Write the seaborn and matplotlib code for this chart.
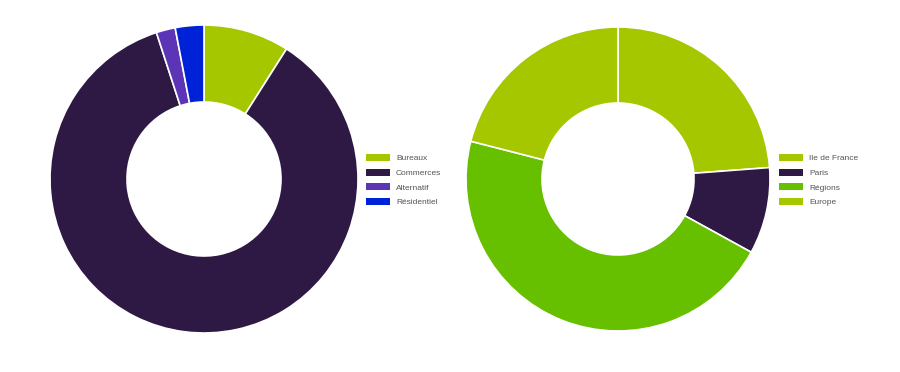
import matplotlib
matplotlib.use("Agg")
import matplotlib.pyplot as plt
import seaborn as sns
from matplotlib.patches import Patch

# Donnees
secteurs = ["Bureaux", "Commerces", "Alternatif", "Résidentiel"]
secteurs_val = [9, 86, 2, 3]
secteurs_col = ["#a4c700", "#2e1844", "#5b35b5", "#0022d6"]

zones = ["Ile de France", "Paris", "Régions", "Europe"]
zones_val = [23.8, 9.2, 46, 21]
zones_col = ["#a4c700", "#2e1844", "#66c000", "#a4c700"]

sns.set_theme(style="white")
plt.rcParams["font.family"] = ["Liberation Sans", "DejaVu Sans"]

W, H = 900, 372
fig = plt.figure(figsize=(9, 3.72), dpi=100)


def donut(cx, cy, r, values, colors, labels, leg_x, leg_y):
    ax = fig.add_axes([(cx - r) / W, (H - cy - r) / H, 2 * r / W, 2 * r / H])
    ax.pie(values, colors=colors, startangle=90, counterclock=False,
           radius=1, wedgeprops=dict(width=0.5, edgecolor="white", linewidth=1.2))
    ax.set_xlim(-1, 1)
    ax.set_ylim(-1, 1)
    ax.set_aspect("equal")
    ax.axis("off")
    handles = [Patch(facecolor=c, edgecolor="none") for c in colors]
    fig.legend(handles, labels, loc="upper left",
               bbox_to_anchor=(leg_x / W, 1 - leg_y / H),
               frameon=False, fontsize=6.0, labelcolor="#555555",
               handlelength=2.9, handleheight=0.9, handletextpad=0.7,
               labelspacing=0.75, borderpad=0, borderaxespad=0)


donut(204, 179, 154, secteurs_val, secteurs_col, secteurs, 366, 154)
donut(618, 179, 152, zones_val, zones_col, zones, 779, 154)

fig.savefig("out.png", dpi=100, facecolor="white")
